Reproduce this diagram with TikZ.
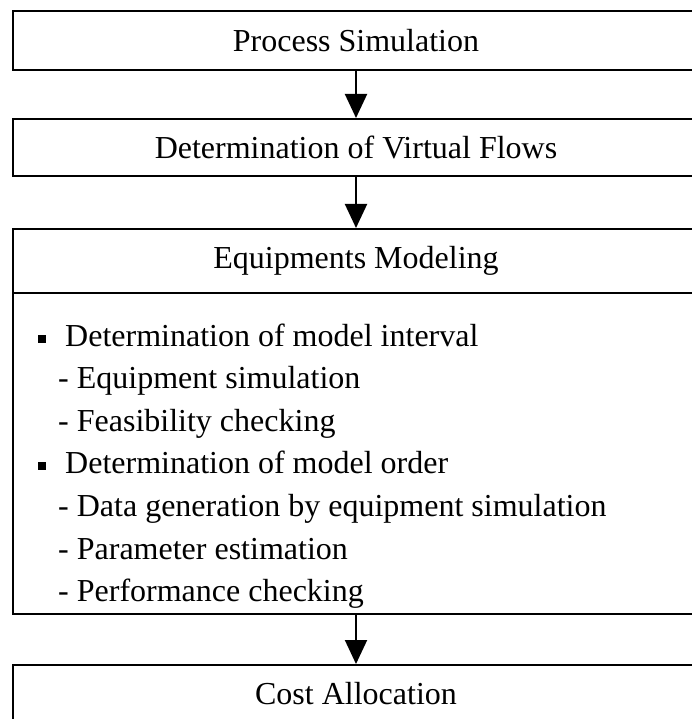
\documentclass[tikz,border=0pt]{standalone}
\usepackage{fontspec}
\setmainfont{Liberation Serif}
\usetikzlibrary{arrows.meta}
\begin{document}
\begin{tikzpicture}[x=1pt,y=1pt,
  box/.style={draw,line width=2pt,minimum width=686pt,inner sep=0pt,font=\fontsize{32}{38}\selectfont},
  conn/.style={line width=2pt,-{Triangle[length=24pt,width=22pt]}},
  item/.style={anchor=base west,inner sep=0pt,font=\fontsize{32}{38}\selectfont}]
\useasboundingbox (0,0) rectangle (691,-719);
\node[box,minimum height=59pt] (ps) at (356,-40.5) {Process Simulation};
\node[box,minimum height=57pt] (vf) at (356,-147.5) {Determination of Virtual Flows};
\node[box,minimum height=385pt,anchor=north] (em) at (356,-228) {};
\node[font=\fontsize{32}{38}\selectfont] (emt) at (356,-261) {Equipments Modeling};
\coordinate (dl) at (em.west |- 0,-293);
\coordinate (dr) at (em.east |- 0,-293);
\draw[line width=2pt] (dl) -- (dr);
\node[box,minimum height=58pt] (ca) at (356,-694) {Cost Allocation};
\node[item] (b1) at (38,-346) {\rule[3pt]{8pt}{8pt}\hspace{19pt}Determination of model interval};
\node[item] (s1) at (58,-388) {- Equipment simulation};
\node[item] (s2) at (58,-431) {- Feasibility checking};
\node[item] (b2) at (38,-473) {\rule[3pt]{8pt}{8pt}\hspace{19pt}Determination of model order};
\node[item] (s3) at (58,-516) {- Data generation by equipment simulation};
\node[item] (s4) at (58,-559) {- Parameter estimation};
\node[item] (s5) at (58,-601) {- Performance checking};
\draw[conn] (ps) -- (vf);
\draw[conn] (vf) -- (em);
\draw[conn] (em) -- (ca);
\end{tikzpicture}
\end{document}
